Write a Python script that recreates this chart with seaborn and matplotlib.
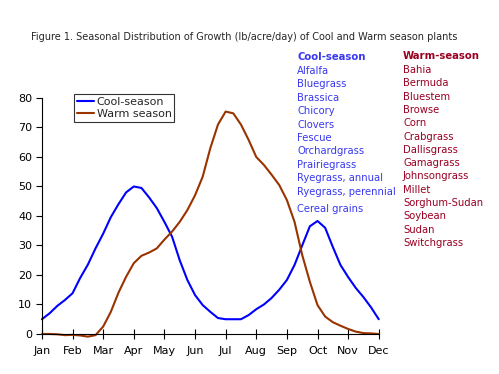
import matplotlib
matplotlib.use("Agg")
import matplotlib.pyplot as plt
import numpy as np
import pandas as pd
import seaborn as sns

# month position (0 = Jan ... 11 = Dec), quarter-month steps
month_pos = [0, 0.25, 0.5, 0.75, 1, 1.25, 1.5, 1.75, 2, 2.25, 2.5, 2.75,
             3, 3.25, 3.5, 3.75, 4, 4.25, 4.5, 4.75, 5, 5.25, 5.5, 5.75,
             6, 6.25, 6.5, 6.75, 7, 7.25, 7.5, 7.75, 8, 8.25, 8.5, 8.75,
             9, 9.25, 9.5, 9.75, 10, 10.25, 10.5, 10.75, 11]
cool_growth = [5, 7, 9.5, 11.5, 13.8, 19, 23.5, 29, 34, 39.6, 44, 48,
               50, 49.5, 46.3, 42.7, 38, 33, 25, 18.3, 13.2, 9.8, 7.5, 5.4,
               5, 5, 5, 6.4, 8.4, 10, 12.2, 15, 18.3, 23.4, 30, 36.5,
               38.3, 36, 29.5, 23.4, 19.3, 15.6, 12.5, 9, 5]
warm_growth = [0, 0, -0.1, -0.4, -0.3, -0.5, -0.9, -0.4, 2.5, 7.5, 14, 19.4,
               24, 26.5, 27.6, 29, 32, 34.7, 38, 42, 47, 53.3, 63, 71,
               75.4, 74.8, 71, 65.8, 60, 57.3, 54, 50.5, 45.4, 38, 26.8, 17.7,
               9.8, 5.9, 4, 2.8, 1.7, 0.8, 0.3, 0.2, 0]
month_labels = ["Jan", "Feb", "Mar", "Apr", "May", "Jun",
                "Jul", "Aug", "Sep", "Oct", "Nov", "Dec"]

cool_species = ["Alfalfa", "Bluegrass", "Brassica", "Chicory", "Clovers",
                "Fescue", "Orchardgrass", "Prairiegrass", "Ryegrass, annual",
                "Ryegrass, perennial"]
cool_extra = "Cereal grains"
warm_species = ["Bahia", "Bermuda", "Bluestem", "Browse", "Corn", "Crabgrass",
                "Dallisgrass", "Gamagrass", "Johnsongrass", "Millet",
                "Sorghum-Sudan", "Soybean", "Sudan", "Switchgrass"]

df = pd.DataFrame({"month": month_pos * 2,
                   "growth": cool_growth + warm_growth,
                   "season": ["Cool-season"] * len(month_pos) + ["Warm season"] * len(month_pos)})

sns.set_theme(style="white")
plt.rcParams["font.family"] = ["DejaVu Sans"]

fig = plt.figure(figsize=(4.99, 3.74), dpi=100)
ax = fig.add_axes([0.084, 0.107, 0.675, 0.631])

sns.lineplot(data=df, x="month", y="growth", hue="season",
             palette={"Cool-season": "#0000FF", "Warm season": "#993300"},
             linewidth=1.5, ax=ax)
for line in ax.get_lines():
    line.set_clip_on(False)
    line.set_solid_joinstyle("round")

ax.set_xlim(0, 11)
ax.set_ylim(0, 80)
ax.set_xticks(range(12))
ax.set_xticklabels(month_labels)
ax.set_yticks(range(0, 81, 10))
ax.set_xlabel("")
ax.set_ylabel("")
ax.tick_params(axis="both", labelsize=8, colors="black", length=4, width=0.8, pad=3)
ax.tick_params(axis="x", direction="inout", length=7, pad=5)
ax.tick_params(axis="y", direction="out", left=True)
ax.tick_params(axis="x", bottom=True)
for s in ["top", "right"]:
    ax.spines[s].set_visible(False)
for s in ["left", "bottom"]:
    ax.spines[s].set_color("black")
    ax.spines[s].set_linewidth(0.8)

leg = ax.legend(loc="upper left", bbox_to_anchor=(0.095, 1.015), fontsize=8,
                frameon=True, fancybox=False, handlelength=1.6,
                borderpad=0.25, labelspacing=0.15, handletextpad=0.2,
                borderaxespad=0.0)
leg.get_frame().set_edgecolor("black")
leg.get_frame().set_linewidth(0.8)

fig.text(0.49, 1 - 37 / 374, "Figure 1. Seasonal Distribution of Growth (lb/acre/day) of Cool and Warm season plants",
         ha="center", va="center", fontsize=7.0)

blue_txt = "#3838F0"
red_txt = "#990022"
fig.text(297 / 499, 1 - 57 / 374, "Cool-season", color=blue_txt, fontsize=7.3,
         fontweight="bold", va="center")
for i, name in enumerate(cool_species):
    fig.text(297 / 499, 1 - (71 + i * 13.4) / 374, name, color=blue_txt,
             fontsize=7.2, va="center")
fig.text(297 / 499, 1 - 209 / 374, cool_extra, color=blue_txt, fontsize=7.2, va="center")

fig.text(403 / 499, 1 - 56 / 374, "Warm-season", color=red_txt, fontsize=7.3,
         fontweight="bold", va="center")
for i, name in enumerate(warm_species):
    fig.text(403 / 499, 1 - (70 + i * 13.3) / 374, name, color=red_txt,
             fontsize=7.2, va="center")

fig.savefig("out.png", dpi=100)
